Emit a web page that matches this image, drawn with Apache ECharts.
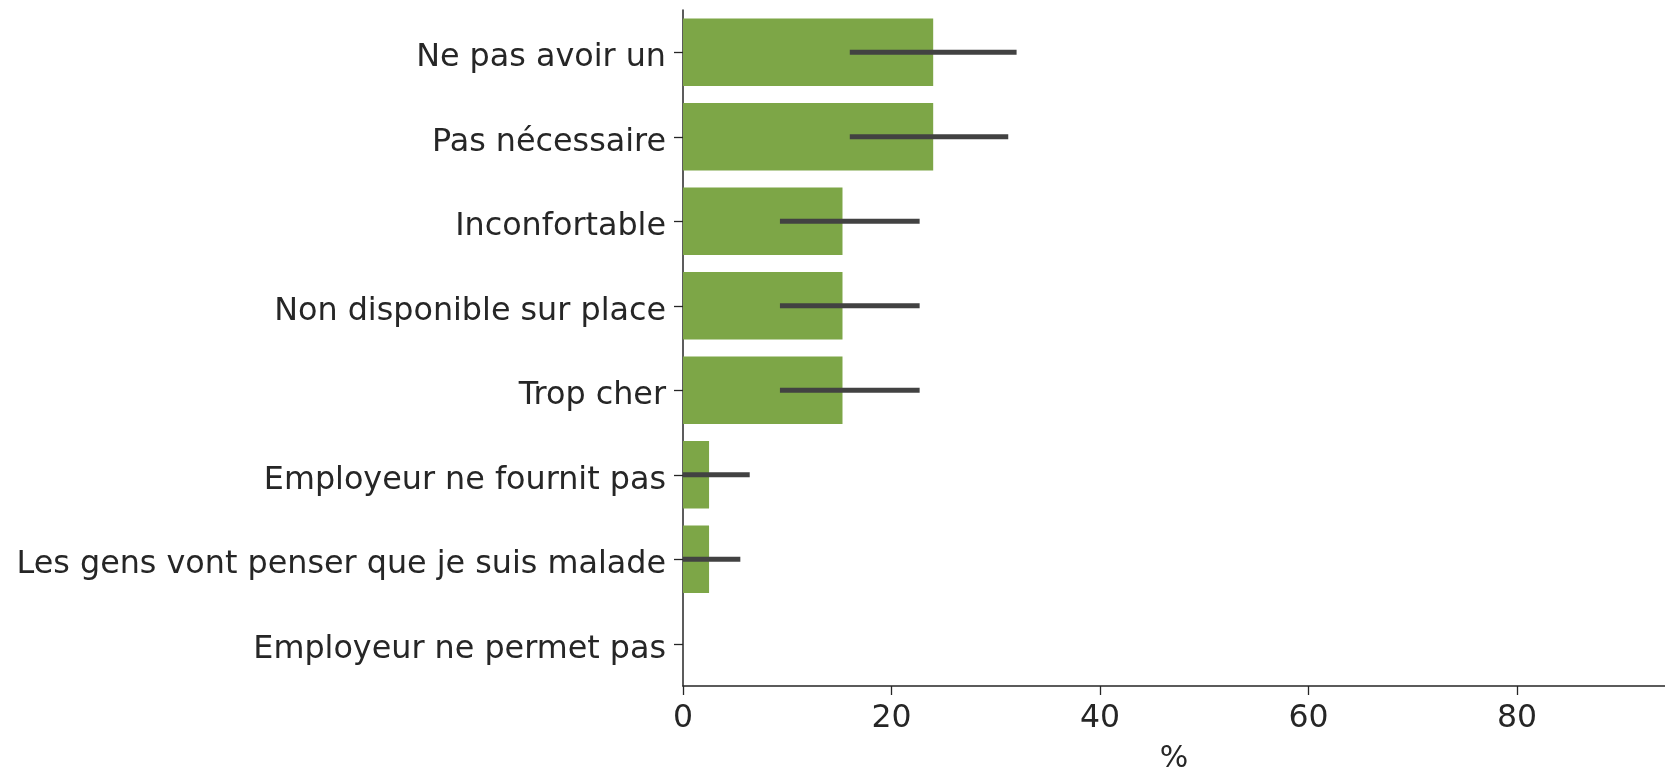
<!DOCTYPE html>
<html>
<head>
<meta charset="utf-8">
<script src="https://cdn.jsdelivr.net/npm/echarts@6/dist/echarts.min.js"></script>
<style>
	html, body { margin: 0; padding: 0; background: #fff; }
	#draw { width: 1665px; height: 769px; }
</style>
</head>
<body>
<div id="draw"></div>
<script>
	// categories, top to bottom
	var categories = [
		'Ne pas avoir un',
		'Pas nécessaire',
		'Inconfortable',
		'Non disponible sur place',
		'Trop cher',
		'Employeur ne fournit pas',
		'Les gens vont penser que je suis malade',
		'Employeur ne permet pas'
	];
	// percentage values
	var values = [24.0, 24.0, 15.3, 15.3, 15.3, 2.5, 2.5, 0];
	// confidence interval ends
	var ciLow = [16.0, 16.0, 9.3, 9.3, 9.3, 0, 0, 0];
	var ciHigh = [32.0, 31.2, 22.7, 22.7, 22.7, 6.4, 5.5, 0];
	var xTicks = [0, 20, 40, 60, 80];

	var errData = categories.map(function (c, i) {
		return [i, ciLow[i], ciHigh[i]];
	});

	var textColor = '#262626';
	var font = 'DejaVu Sans';

	var myChart = echarts.init(document.getElementById('draw'));
	myChart.setOption({
		animation: false,
		grid: {
			left: 683,
			right: 0,
			top: 10,
			bottom: 83,
			outerBoundsMode: 'none',
			containLabel: false
		},
		xAxis: {
			type: 'value',
			min: 0,
			max: 94.2,
			interval: 20,
			name: '%',
			nameLocation: 'middle',
			nameGap: 58,
			nameTextStyle: {
				color: textColor,
				fontFamily: font,
				fontSize: 30
			},
			axisLine: {
				show: true,
				lineStyle: { color: textColor, width: 1.5 }
			},
			axisTick: {
				show: true,
				length: 9,
				lineStyle: { color: textColor, width: 1.3 }
			},
			axisLabel: {
				color: textColor,
				fontFamily: font,
				fontSize: 31.5,
				margin: 17,
				showMaxLabel: false,
				formatter: function (v) {
					return xTicks.indexOf(v) >= 0 ? String(v) : '';
				}
			},
			splitLine: { show: false }
		},
		yAxis: {
			type: 'category',
			data: categories,
			inverse: true,
			axisLine: {
				show: true,
				lineStyle: { color: textColor, width: 1.5 }
			},
			axisTick: {
				show: true,
				alignWithLabel: true,
				length: 9,
				lineStyle: { color: textColor, width: 1.3 }
			},
			axisLabel: {
				margin: 17,
				formatter: function (v) {
					return '{t|' + v + '}';
				},
				rich: {
					t: {
						color: textColor,
						fontFamily: font,
						fontSize: 31.8,
						padding: [11, 0, 0, 0]
					}
				}
			}
		},
		series: [{
			type: 'bar',
			data: values,
			barWidth: '80%',
			itemStyle: { color: '#7da647' },
			z: 2
		}, {
			type: 'custom',
			data: errData,
			z: 3,
			renderItem: function (params, api) {
				var cat = api.value(0);
				var lo = api.coord([api.value(1), cat]);
				var hi = api.coord([api.value(2), cat]);
				if (hi[0] - lo[0] < 0.5) return null;
				return {
					type: 'line',
					shape: { x1: lo[0], y1: lo[1], x2: hi[0], y2: hi[1] },
					style: { stroke: '#424242', lineWidth: 5 }
				};
			},
			encode: { x: [1, 2], y: 0 }
		}]
	});
</script>
</body>
</html>
